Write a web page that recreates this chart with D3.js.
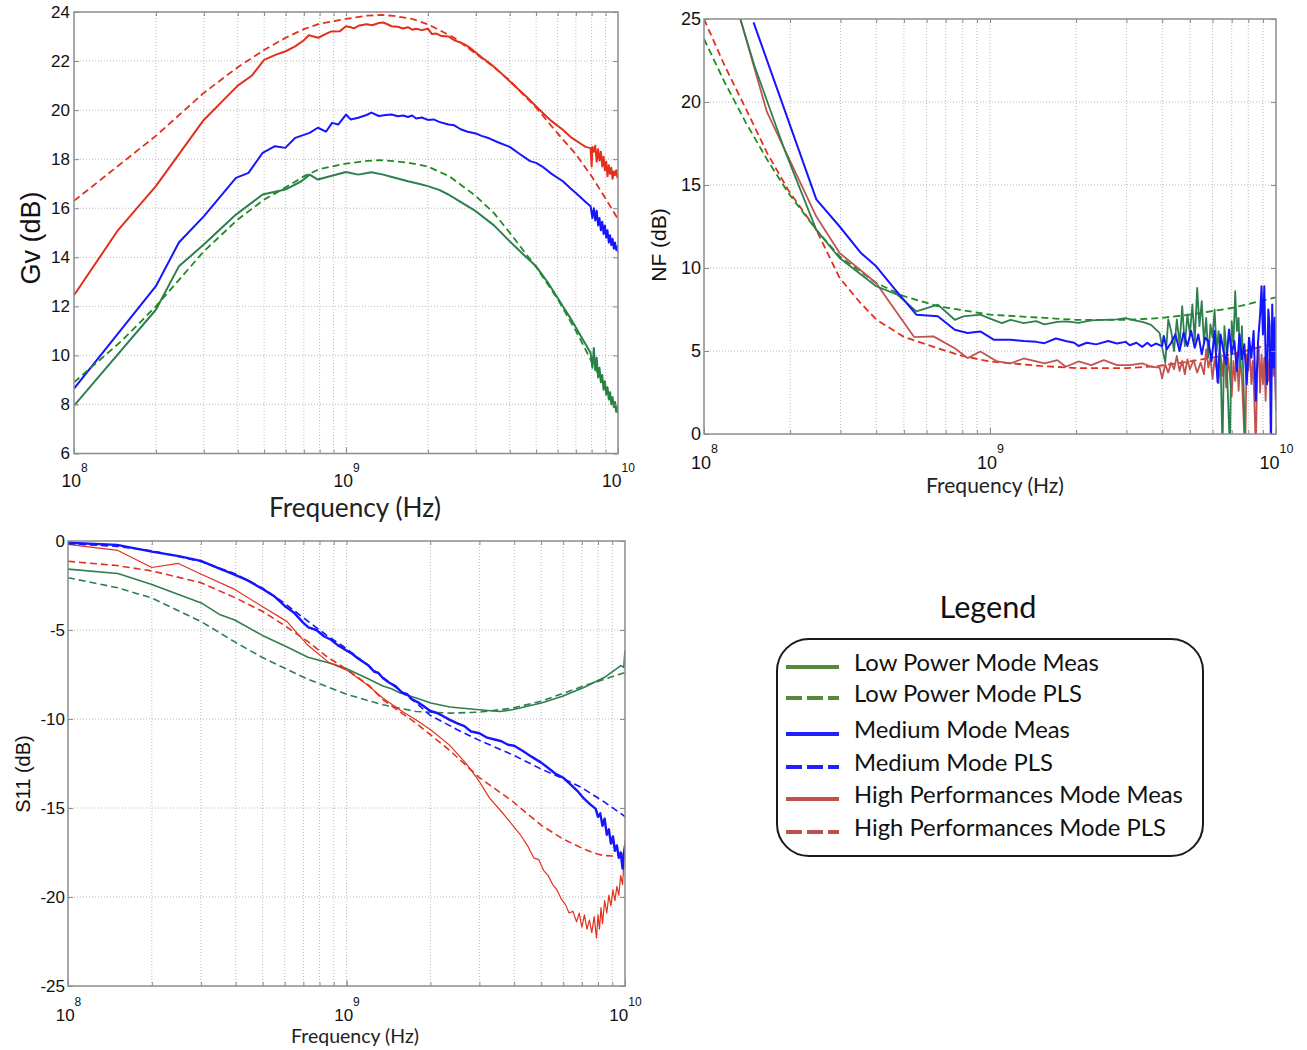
<!DOCTYPE html>
<html><head><meta charset="utf-8">
<script src="https://cdn.jsdelivr.net/npm/d3@7"></script>
<style>body{margin:0;background:#fff}svg{display:block}</style>
</head><body>
<svg id="chart" width="1307" height="1050"></svg>
<script>
// ===== DATA (frequency in GHz, value in dB) =====
const xMajorTicks = [1e8, 1e9, 1e10];
const xExponents = ["8", "9", "10"];
const gvTicks = [6, 8, 10, 12, 14, 16, 18, 20, 22, 24];
const nfTicks = [0, 5, 10, 15, 20, 25];
const s11Ticks = [-25, -20, -15, -10, -5, 0];

const legendLabels = ["Low Power Mode Meas", "Low Power Mode PLS", "Medium Mode Meas", "Medium Mode PLS", "High Performances Mode Meas", "High Performances Mode PLS"];

// --- Gv ---
const gvHighPLS = [[0.1,16.3],[0.15,17.85],[0.2,18.95],[0.3,20.7],[0.4,21.75],[0.5,22.45],[0.6,22.95],[0.7,23.3],[0.8,23.52],[1.0,23.72],[1.2,23.85],[1.35,23.88],[1.5,23.84],[1.75,23.72],[2.0,23.5],[2.5,22.95],[3.0,22.3],[3.5,21.75],[4.0,21.2],[5.0,20.1],[6.0,19.05],[7.0,18.2],[8.0,17.3],[9.0,16.4],[10.0,15.55]];
const gvHighMeas = [[0.1,12.45],[0.145,15.1],[0.2,16.9],[0.3,19.6],[0.4,21.0],[0.45,21.4],[0.5,22.05],[0.55,22.25],[0.6,22.4],[0.65,22.6],[0.7,22.85],[0.73,23.05],[0.76,23.0],[0.79,22.95],[0.84,23.1],[0.88,23.2],[0.95,23.22],[1.0,23.42],[1.04,23.38],[1.07,23.33],[1.12,23.45],[1.19,23.5],[1.25,23.46],[1.32,23.55],[1.37,23.57],[1.42,23.5],[1.47,23.42],[1.55,23.4],[1.62,23.33],[1.69,23.38],[1.75,23.28],[1.81,23.32],[1.9,23.26],[2.0,23.32],[2.07,23.1],[2.15,23.12],[2.25,23.02],[2.38,23.0],[2.5,22.85],[2.64,22.75],[2.73,22.68],[2.85,22.55],[3.0,22.35],[3.15,22.15],[3.36,21.93],[3.6,21.65],[4.0,21.18],[4.3,20.85],[4.59,20.57],[4.9,20.25],[5.27,19.9],[5.7,19.55],[6.27,19.2],[6.7,18.9],[7.2,18.67],[7.6,18.5],[7.93,18.45],[8.0,17.7],[8.05,18.5],[8.15,18.3],[8.25,18.55],[8.35,17.9],[8.45,18.4],[8.55,17.95],[8.65,18.3],[8.75,17.7],[8.85,18.1],[8.95,17.55],[9.05,17.9],[9.15,17.3],[9.25,17.75],[9.35,17.4],[9.45,17.65],[9.55,17.2],[9.65,17.5],[9.75,17.35],[9.85,17.55],[9.95,17.25],[10.0,17.3]];
const gvMedMeas = [[0.1,8.65],[0.2,12.82],[0.243,14.6],[0.3,15.67],[0.394,17.24],[0.438,17.44],[0.494,18.26],[0.548,18.53],[0.598,18.46],[0.651,18.87],[0.735,19.07],[0.788,19.28],[0.844,19.12],[0.889,19.48],[0.936,19.41],[1.0,19.82],[1.04,19.62],[1.11,19.69],[1.19,19.8],[1.24,19.9],[1.32,19.76],[1.4,19.8],[1.47,19.82],[1.55,19.75],[1.62,19.78],[1.69,19.72],[1.75,19.78],[1.81,19.66],[1.9,19.7],[2.0,19.6],[2.1,19.62],[2.2,19.52],[2.38,19.41],[2.5,19.38],[2.64,19.22],[2.8,19.12],[3.0,19.05],[3.15,18.95],[3.36,18.85],[3.6,18.7],[4.0,18.5],[4.3,18.25],[4.75,17.92],[5.0,17.85],[5.27,17.7],[5.7,17.4],[6.27,17.1],[6.7,16.8],[7.2,16.5],[7.6,16.25],[7.93,16.08],[8.05,15.6],[8.15,16.0],[8.25,15.5],[8.35,15.9],[8.45,15.3],[8.55,15.6],[8.65,15.1],[8.75,15.45],[8.85,14.95],[8.95,15.3],[9.05,14.8],[9.15,15.1],[9.25,14.6],[9.35,14.9],[9.45,14.5],[9.55,14.75],[9.65,14.35],[9.75,14.6],[9.85,14.3],[9.95,14.45],[10.0,14.2]];
const gvLowMeas = [[0.1,7.95],[0.2,11.86],[0.243,13.63],[0.3,14.52],[0.394,15.74],[0.494,16.56],[0.598,16.76],[0.686,17.1],[0.735,17.37],[0.788,17.17],[0.874,17.3],[1.0,17.48],[1.11,17.37],[1.24,17.47],[1.37,17.37],[1.5,17.25],[1.69,17.1],[1.85,17.0],[2.0,16.9],[2.2,16.75],[2.38,16.56],[2.6,16.3],[3.0,15.88],[3.5,15.3],[4.0,14.65],[4.5,14.1],[5.0,13.63],[5.5,13.0],[6.27,12.0],[6.7,11.5],[7.2,10.9],[7.6,10.45],[7.93,10.1],[8.05,9.5],[8.15,10.3],[8.25,9.4],[8.35,9.9],[8.45,9.1],[8.55,9.5],[8.65,8.9],[8.75,9.2],[8.85,8.6],[8.95,8.95],[9.05,8.4],[9.15,8.7],[9.25,8.2],[9.35,8.5],[9.45,8.0],[9.55,8.3],[9.65,7.9],[9.75,8.1],[9.85,7.7],[9.95,7.9],[10.0,7.65]];
const gvLowPLS = [[0.1,8.9],[0.15,10.6],[0.2,12.0],[0.3,14.24],[0.4,15.54],[0.5,16.35],[0.6,16.85],[0.7,17.3],[0.8,17.6],[1.0,17.82],[1.2,17.93],[1.32,17.96],[1.5,17.92],[1.7,17.85],[2.0,17.7],[2.4,17.3],[3.0,16.5],[3.5,15.8],[4.0,15.0],[5.0,13.6],[6.0,12.3],[7.0,11.0],[8.0,9.75],[9.0,8.7],[10.0,7.65]];

// --- NF ---
const nfHighPLS = [[0.1,25.0],[0.118,22.2],[0.14,19.6],[0.166,16.95],[0.197,14.7],[0.247,12.3],[0.298,9.4],[0.35,7.95],[0.4,6.9],[0.5,5.85],[0.66,5.15],[0.8,4.7],[1.0,4.37],[1.5,4.1],[2.0,3.97],[3.0,3.97],[3.9,4.1],[5.0,4.37],[7.0,4.8],[10.0,5.47]];
const nfLowPLS = [[0.1,23.8],[0.118,21.2],[0.14,18.76],[0.166,16.55],[0.197,14.53],[0.247,12.3],[0.298,10.7],[0.4,9.1],[0.5,8.3],[0.66,7.69],[1.0,7.19],[2.0,6.88],[3.0,6.88],[3.9,6.98],[5.0,7.19],[7.0,7.59],[10.0,8.23]];
const nfLowMeas = [[0.134,25],[0.15,22.2],[0.191,17.15],[0.247,12.3],[0.298,10.6],[0.4,8.9],[0.474,8.4],[0.553,7.39],[0.657,7.79],[0.753,6.88],[0.807,7.09],[0.925,7.19],[0.991,6.98],[1.1,6.68],[1.18,6.88],[1.31,6.68],[1.45,6.8],[1.55,6.6],[1.72,6.75],[1.84,6.78],[2.04,6.7],[2.26,6.85],[2.5,6.88],[2.78,6.9],[2.98,6.98],[3.2,6.85],[3.41,6.75],[3.66,6.58],[3.92,6.08],[4.0,5.2],[4.1,4.3],[4.2,6.9],[4.3,6.2],[4.4,5.0],[4.5,6.9],[4.6,5.4],[4.7,7.7],[4.8,5.3],[4.9,7.2],[5.0,6.0],[5.1,7.8],[5.2,5.6],[5.3,8.8],[5.4,6.5],[5.5,8.0],[5.6,5.5],[5.7,7.0],[5.8,4.6],[5.9,6.6],[6.0,5.8],[6.1,7.5],[6.2,5.0],[6.3,6.2],[6.4,4.5],[6.5,-1],[6.6,6.5],[6.7,5.2],[6.8,2.0],[6.9,-1],[7.0,6.8],[7.1,5.5],[7.2,8.6],[7.3,6.2],[7.4,7.0],[7.5,4.0],[7.6,6.5],[7.7,3.0],[7.8,-1],[7.9,-3]];
const nfMedMeas = [[0.149,24.8],[0.247,14.13],[0.298,12.5],[0.354,10.9],[0.4,10.1],[0.466,8.7],[0.553,7.19],[0.657,7.09],[0.753,6.28],[0.835,6.08],[0.925,6.18],[1.03,5.68],[1.18,5.68],[1.31,5.6],[1.45,5.55],[1.55,5.47],[1.7,5.75],[1.84,5.6],[1.97,5.5],[2.04,5.3],[2.18,5.5],[2.35,5.4],[2.59,5.6],[2.78,5.45],[2.98,5.55],[3.08,5.35],[3.25,5.5],[3.41,5.25],[3.55,5.5],[3.66,5.3],[3.8,5.45],[3.92,5.35],[4.0,5.3],[4.05,5.9],[4.15,5.1],[4.3,5.5],[4.45,6.0],[4.6,5.0],[4.75,6.1],[4.9,5.3],[5.05,6.2],[5.2,5.2],[5.35,6.0],[5.5,4.8],[5.65,5.8],[5.8,5.6],[5.95,4.4],[6.1,6.2],[6.25,3.1],[6.4,6.0],[6.55,5.0],[6.7,4.2],[6.85,6.3],[7.0,4.8],[7.15,5.6],[7.3,3.8],[7.45,6.0],[7.6,4.5],[7.75,5.4],[7.9,3.0],[8.05,5.8],[8.2,4.6],[8.35,6.2],[8.5,2.0],[8.65,5.5],[8.8,7.2],[8.9,8.9],[9.0,6.0],[9.1,8.9],[9.2,4.5],[9.3,3.0],[9.4,7.5],[9.5,6.5],[9.6,-1],[9.7,7.8],[9.8,4.0],[9.9,7.0],[10.0,2.0]];
const nfHighMeas = [[0.134,25],[0.166,19.4],[0.247,13.1],[0.298,10.9],[0.4,9.1],[0.443,8.0],[0.543,5.84],[0.634,5.88],[0.753,5.17],[0.835,4.57],[0.925,4.97],[1.06,4.37],[1.18,4.25],[1.31,4.55],[1.45,4.37],[1.55,4.25],[1.72,4.45],[1.84,4.05],[2.04,4.37],[2.26,4.15],[2.5,4.45],[2.78,4.15],[3.08,4.15],[3.41,4.25],[3.66,4.05],[3.92,4.0],[4.0,3.36],[4.1,4.2],[4.2,3.7],[4.3,4.3],[4.4,3.9],[4.5,4.7],[4.6,3.8],[4.7,4.4],[4.8,3.6],[4.9,4.5],[5.0,3.9],[5.15,4.45],[5.3,3.7],[5.45,4.3],[5.6,3.6],[5.7,5.1],[5.8,4.0],[5.9,4.6],[6.0,3.3],[6.1,4.5],[6.2,3.9],[6.3,3.06],[6.4,4.8],[6.5,3.5],[6.6,4.9],[6.7,2.8],[6.8,4.6],[6.9,3.5],[7.0,2.25],[7.1,4.4],[7.2,3.2],[7.3,4.9],[7.4,2.6],[7.5,4.5],[7.6,3.4],[7.7,1.0],[7.8,-1],[7.9,4.8],[8.0,3.8],[8.1,5.0],[8.2,3.0],[8.3,4.4],[8.4,2.0],[8.5,-1],[8.6,4.0],[8.7,5.3],[8.8,2.5],[8.9,4.8],[9.0,3.0],[9.1,4.6],[9.2,2.0],[9.3,5.0],[9.4,3.2],[9.5,4.5],[9.6,2.8],[9.7,5.2],[9.8,3.5],[9.9,4.8],[10.0,1.4]];

// --- S11 ---
const s11MedMeas = [[0.1,-0.1],[0.15,-0.22],[0.2,-0.6],[0.25,-0.85],[0.3,-1.12],[0.35,-1.55],[0.39,-1.85],[0.44,-2.2],[0.5,-2.7],[0.55,-3.1],[0.6,-3.65],[0.65,-4.05],[0.7,-4.6],[0.73,-4.85],[0.78,-5.0],[0.83,-5.35],[0.88,-5.55],[0.93,-5.85],[1.0,-6.15],[1.05,-6.35],[1.1,-6.6],[1.15,-6.8],[1.2,-7.0],[1.26,-7.35],[1.3,-7.4],[1.35,-7.7],[1.42,-7.95],[1.5,-8.15],[1.58,-8.5],[1.65,-8.6],[1.72,-8.9],[1.8,-9.05],[1.9,-9.3],[2.0,-9.55],[2.1,-9.65],[2.2,-9.8],[2.35,-10.05],[2.5,-10.25],[2.65,-10.4],[2.8,-10.7],[3.0,-10.8],[3.2,-11.05],[3.4,-11.15],[3.6,-11.25],[3.8,-11.45],[4.0,-11.5],[4.3,-11.8],[4.6,-12.1],[5.0,-12.45],[5.3,-12.75],[5.6,-13.05],[6.0,-13.3],[6.4,-13.7],[6.8,-14.1],[7.1,-14.45],[7.5,-14.8],[7.85,-15.05],[8.0,-15.5],[8.15,-15.3],[8.3,-16.0],[8.45,-15.6],[8.6,-16.5],[8.75,-16.2],[8.9,-17.0],[9.05,-16.6],[9.2,-17.4],[9.35,-17.1],[9.5,-17.8],[9.65,-17.5],[9.8,-18.4],[9.9,-17.6],[10.0,-17.1]];
const s11MedPLS = [[0.1,-0.15],[0.15,-0.3],[0.2,-0.55],[0.3,-1.15],[0.4,-1.85],[0.5,-2.65],[0.6,-3.5],[0.73,-4.53],[0.85,-5.3],[1.0,-6.05],[1.2,-7.0],[1.4,-7.85],[1.78,-9.1],[2.0,-9.8],[2.5,-10.6],[3.0,-11.2],[4.0,-12.05],[5.0,-12.81],[6.0,-13.35],[7.0,-13.86],[8.5,-14.7],[10.0,-15.48]];
const s11HighMeas = [[0.1,-0.19],[0.151,-0.53],[0.2,-1.49],[0.249,-1.26],[0.301,-1.87],[0.397,-2.72],[0.497,-3.67],[0.612,-4.53],[0.727,-5.86],[0.863,-6.82],[1.01,-7.29],[1.18,-8.05],[1.35,-8.82],[1.55,-9.48],[1.78,-10.05],[2.01,-10.62],[2.35,-11.48],[2.7,-12.53],[2.99,-13.48],[3.26,-14.43],[3.68,-15.38],[4.22,-16.53],[4.5,-17.2],[4.7,-17.8],[4.9,-17.9],[5.1,-18.5],[5.3,-18.8],[5.5,-19.3],[5.7,-19.6],[5.9,-20.1],[6.1,-20.4],[6.3,-20.9],[6.5,-20.8],[6.7,-21.4],[6.85,-20.9],[7.0,-21.7],[7.15,-21.0],[7.3,-21.8],[7.45,-21.3],[7.6,-22.0],[7.75,-21.1],[7.9,-22.3],[8.0,-21.0],[8.1,-21.8],[8.2,-20.6],[8.3,-21.5],[8.45,-20.2],[8.6,-20.9],[8.75,-19.9],[8.9,-20.5],[9.05,-19.6],[9.2,-20.2],[9.35,-19.4],[9.5,-19.9],[9.65,-18.8],[9.8,-19.3],[9.9,-18.2],[10.0,-16.8]];
const s11HighPLS = [[0.1,-1.14],[0.15,-1.38],[0.2,-1.68],[0.3,-2.34],[0.4,-3.2],[0.5,-3.96],[0.6,-4.75],[0.73,-5.67],[0.85,-6.5],[1.0,-7.2],[1.2,-8.1],[1.35,-8.91],[1.78,-10.24],[2.35,-11.77],[3.0,-13.29],[3.94,-14.62],[5.0,-15.96],[6.0,-16.75],[7.08,-17.29],[8.0,-17.6],[8.42,-17.67],[9.0,-17.7],[10.0,-17.57]];
const s11LowMeas = [[0.1,-1.58],[0.151,-1.83],[0.2,-2.44],[0.301,-3.48],[0.352,-4.15],[0.397,-4.44],[0.497,-5.29],[0.612,-5.96],[0.727,-6.53],[0.894,-6.91],[1.01,-7.2],[1.2,-7.75],[1.35,-8.15],[1.45,-8.3],[1.55,-8.53],[1.78,-8.82],[2.01,-9.1],[2.35,-9.33],[2.99,-9.48],[3.55,-9.58],[3.94,-9.48],[5.01,-9.1],[5.96,-8.72],[7.08,-8.24],[8.42,-7.67],[9.66,-7.0],[9.9,-7.1],[10.0,-6.15]];
const s11LowPLS = [[0.1,-2.06],[0.151,-2.63],[0.2,-3.2],[0.301,-4.53],[0.397,-5.67],[0.497,-6.53],[0.727,-7.77],[1.01,-8.63],[1.35,-9.2],[1.78,-9.58],[2.35,-9.67],[2.99,-9.62],[3.94,-9.39],[5.01,-9.0],[7.08,-8.15],[10.0,-7.39]];

// ===== STYLE =====
const C = { red:"#e3301c", brown:"#c25450", blue:"#1515ff", greenM:"#2e7f50", greenP:"#1f8c22",
            legGreen:"#56893a", legBlue:"#1f1fff", legRed:"#c0504d" };
const FONT_NUM = "'Liberation Sans', Arial, Helvetica, sans-serif";
const FONT_CAL = "Lato, 'Open Sans', sans-serif";
const DASH = "7,4";

const svg = d3.select('#chart');
svg.append('rect').attr('width',1307).attr('height',1050).attr('fill','#fff');

function fitWidth(sel, target) {
  const w = sel.node().getComputedTextLength();
  const fs = parseFloat(sel.attr('font-size'));
  if (w > 0) sel.attr('font-size', (fs * target / w).toFixed(2));
}

function drawPanel(p) {
  const x = d3.scaleLog().domain([1e8, 1e10]).range([p.l, p.r]);
  const y = d3.scaleLinear().domain(p.yDomain).range([p.b, p.t]);
  const g = svg.append('g');

  // grid
  const minor = x.ticks().filter(d => d > 1e8 * 1.0001 && d < 1e10 * 0.9999);
  g.append('g').selectAll('line').data(minor).join('line')
    .attr('x1', d => x(d)).attr('x2', d => x(d)).attr('y1', p.t).attr('y2', p.b)
    .attr('stroke', '#b9b9b9').attr('stroke-width', 1).attr('stroke-dasharray', '1,2');
  g.append('g').selectAll('line').data(p.yTicks.slice(1, -1)).join('line')
    .attr('x1', p.l).attr('x2', p.r).attr('y1', d => y(d)).attr('y2', d => y(d))
    .attr('stroke', '#b9b9b9').attr('stroke-width', 1).attr('stroke-dasharray', '1,2');

  // clip
  const cid = 'clip-' + p.name;
  svg.append('clipPath').attr('id', cid).append('rect')
    .attr('x', p.l).attr('y', p.t).attr('width', p.r - p.l).attr('height', p.b - p.t);

  const line = d3.line().x(d => x(d[0] * 1e9)).y(d => y(d[1]));
  const sg = g.append('g').attr('clip-path', `url(#${cid})`);
  p.series.forEach(s => {
    sg.append('path').attr('d', line(s.data)).attr('fill', 'none')
      .attr('stroke', s.color).attr('stroke-width', s.w)
      .attr('stroke-dasharray', s.dash ? DASH : null)
      .attr('stroke-linejoin', 'round');
  });

  // axes ticks (inward)
  const tickCol = '#8a8a8a';
  const axB = g.append('g').attr('transform', `translate(0,${p.b})`)
    .call(d3.axisBottom(x).tickValues(minor).tickSize(-4).tickFormat(''));
  const axT = g.append('g').attr('transform', `translate(0,${p.t})`)
    .call(d3.axisTop(x).tickValues(minor).tickSize(-4).tickFormat(''));
  const axL = g.append('g').attr('transform', `translate(${p.l},0)`)
    .call(d3.axisLeft(y).tickValues(p.yTicks).tickSize(-5).tickPadding(p.yPad).tickFormat(d => String(d)));
  const axR = g.append('g').attr('transform', `translate(${p.r},0)`)
    .call(d3.axisRight(y).tickValues(p.yTicks).tickSize(-5).tickFormat(''));
  const axM = g.append('g').attr('transform', `translate(0,${p.b})`)
    .call(d3.axisBottom(x).tickValues(xMajorTicks).tickSize(-6).tickFormat(''));
  [axB, axT, axL, axR, axM].forEach(a => {
    a.select('.domain').remove();
    a.selectAll('line').attr('stroke', tickCol);
  });
  axL.selectAll('text').attr('font-family', FONT_NUM).attr('font-size', p.yFs)
    .attr('fill', '#111');

  // x major labels: 10^n
  axM.selectAll('.tick').each(function(d, i) {
    const t = d3.select(this).append('text').attr('text-anchor', 'middle')
      .attr('y', p.xBase).attr('font-family', FONT_NUM).attr('fill', '#111')
      .attr('font-size', p.xFs);
    t.append('tspan').text('10');
    t.append('tspan').attr('font-size', p.xExpFs).attr('dy', p.xExpDy).text(xExponents[i]);
  });

  // box
  g.append('rect').attr('x', p.l).attr('y', p.t).attr('width', p.r - p.l).attr('height', p.b - p.t)
    .attr('fill', 'none').attr('stroke', '#8c8c8c').attr('stroke-width', 1.5);

  // y label
  g.append('text').attr('transform', `translate(${p.yLab.x},${p.yLab.y}) rotate(-90)`)
    .attr('text-anchor', 'middle').attr('dominant-baseline', 'central')
    .attr('font-family', FONT_NUM).attr('font-size', p.yLab.fs).attr('fill', '#111')
    .text(p.yLab.text);
  // x label
  const xl = g.append('text').attr('x', p.xLab.x).attr('y', p.xLab.y).attr('text-anchor', 'middle')
    .attr('font-family', FONT_CAL).attr('font-size', 20).attr('fill', '#222').text('Frequency (Hz)');
  fitWidth(xl, p.xLab.w);
}

drawPanel({
  name: 'gv', l: 74, r: 618, t: 12, b: 453.5, yDomain: [6, 24], yTicks: gvTicks,
  yPad: 4, yFs: 17, xFs: 17.5, xExpFs: 12, xBase: 33.5, xExpDy: -15,
  yLab: { text: 'Gv (dB)', x: 31, y: 238, fs: 27 },
  xLab: { x: 355, y: 517, w: 172 },
  series: [
    { data: gvHighMeas, color: C.red, w: 2 },
    { data: gvHighPLS, color: C.red, w: 1.8, dash: true },
    { data: gvMedMeas, color: C.blue, w: 2 },
    { data: gvLowMeas, color: C.greenM, w: 2 },
    { data: gvLowPLS, color: C.greenP, w: 1.8, dash: true }
  ]
});

drawPanel({
  name: 'nf', l: 704, r: 1276, t: 19, b: 434, yDomain: [0, 25], yTicks: nfTicks,
  yPad: 3, yFs: 18, xFs: 18, xExpFs: 12.5, xBase: 35, xExpDy: -16,
  yLab: { text: 'NF (dB)', x: 658, y: 245, fs: 21 },
  xLab: { x: 995, y: 493, w: 138 },
  series: [
    { data: nfHighPLS, color: C.red, w: 1.8, dash: true },
    { data: nfLowPLS, color: C.greenP, w: 1.8, dash: true },
    { data: nfHighMeas, color: C.brown, w: 1.8 },
    { data: nfLowMeas, color: C.greenM, w: 1.8 },
    { data: nfMedMeas, color: C.blue, w: 2 }
  ]
});

drawPanel({
  name: 's11', l: 68, r: 625, t: 541, b: 986, yDomain: [-25, 0], yTicks: s11Ticks,
  yPad: 3, yFs: 17, xFs: 17, xExpFs: 12, xBase: 34.5, xExpDy: -15,
  yLab: { text: 'S11 (dB)', x: 23, y: 774, fs: 20 },
  xLab: { x: 355, y: 1043, w: 128 },
  series: [
    { data: s11LowPLS, color: C.greenM, w: 1.6, dash: true },
    { data: s11LowMeas, color: C.greenM, w: 1.6 },
    { data: s11HighMeas, color: C.red, w: 1.2 },
    { data: s11HighPLS, color: C.red, w: 1.6, dash: true },
    { data: s11MedMeas, color: C.blue, w: 2.4 },
    { data: s11MedPLS, color: C.blue, w: 1.6, dash: true }
  ]
});

// ===== LEGEND =====
const leg = svg.append('g');
const legTitle = leg.append('text').attr('x', 988).attr('y', 618).attr('text-anchor', 'middle')
  .attr('font-family', FONT_CAL).attr('font-size', 28).attr('fill', '#111').text('Legend');
fitWidth(legTitle, 97);
leg.append('rect').attr('x', 777).attr('y', 639).attr('width', 426).attr('height', 217)
  .attr('rx', 32).attr('ry', 32).attr('fill', '#fff').attr('stroke', '#1a1a1a').attr('stroke-width', 2);
const legColors = [C.legGreen, C.legGreen, C.legBlue, C.legBlue, C.legRed, C.legRed];
const legDash = [false, true, false, true, false, true];
const legRowY = [667, 698, 734, 767, 799, 832];
const legItems = leg.selectAll('g.item').data(legendLabels).join('g').attr('class', 'item')
  .attr('transform', (d, i) => `translate(0,${legRowY[i]})`);
legItems.append('line').attr('x1', 786).attr('x2', 839).attr('y1', 0).attr('y2', 0)
  .attr('stroke', (d, i) => legColors[i]).attr('stroke-width', 4)
  .attr('stroke-dasharray', (d, i) => legDash[i] ? '16,5' : null);
const legTexts = legItems.append('text').attr('x', 854).attr('y', 4)
  .attr('font-family', FONT_CAL).attr('font-size', 22).attr('fill', '#111').text(d => d);
// fit the longest label width, apply same size to all
const longest = legTexts.filter((d, i) => i === 4);
fitWidth(longest, 329);
legTexts.attr('font-size', longest.attr('font-size'));
</script>
</body></html>
